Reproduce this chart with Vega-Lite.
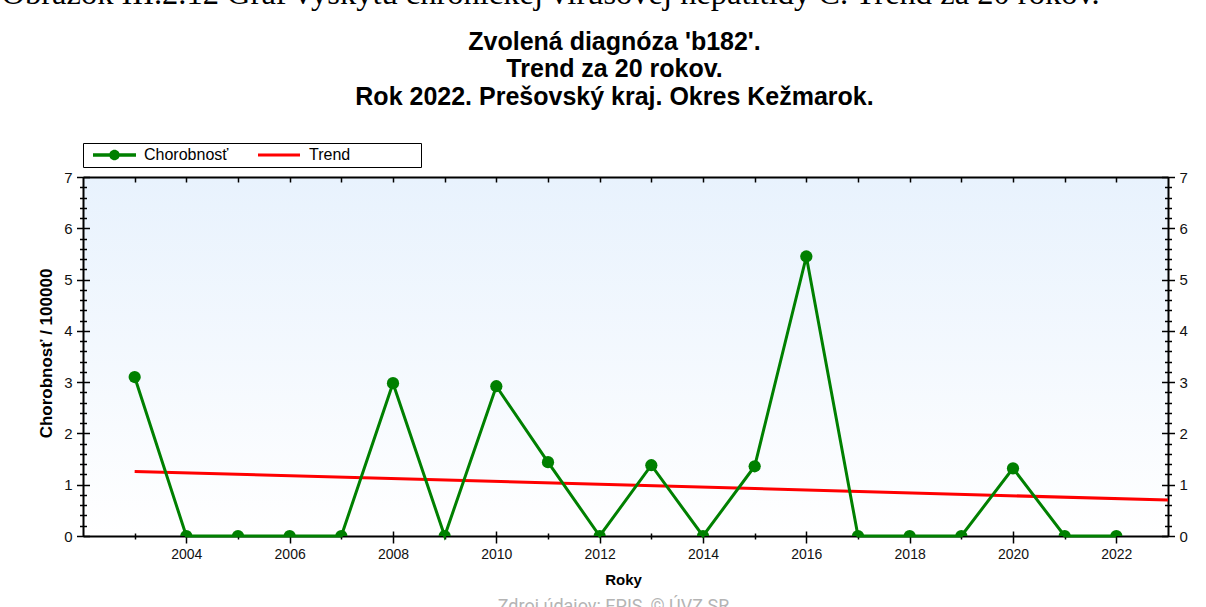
{
  "$schema": "https://vega.github.io/schema/vega-lite/v6.json",
  "autosize": {"type": "none"},
  "width": 1085,
  "height": 359,
  "padding": {"left": 83, "top": 177, "right": 38, "bottom": 71},
  "background": "white",
  "view": {
    "stroke": null,
    "fill": {
      "gradient": "linear",
      "x1": 0, "y1": 0, "x2": 0, "y2": 1,
      "stops": [
        {"offset": 0, "color": "#e8f2fd"},
        {"offset": 1, "color": "#ffffff"}
      ]
    }
  },
  "datasets": {
    "incidence": [
      {"year": 2003, "value": 3.10},
      {"year": 2004, "value": 0},
      {"year": 2005, "value": 0},
      {"year": 2006, "value": 0},
      {"year": 2007, "value": 0},
      {"year": 2008, "value": 2.98},
      {"year": 2009, "value": 0},
      {"year": 2010, "value": 2.92},
      {"year": 2011, "value": 1.44},
      {"year": 2012, "value": 0},
      {"year": 2013, "value": 1.38},
      {"year": 2014, "value": 0},
      {"year": 2015, "value": 1.36},
      {"year": 2016, "value": 5.45},
      {"year": 2017, "value": 0},
      {"year": 2018, "value": 0},
      {"year": 2019, "value": 0},
      {"year": 2020, "value": 1.32},
      {"year": 2021, "value": 0},
      {"year": 2022, "value": 0}
    ],
    "trend": [
      {"year": 2003, "trend": 1.26},
      {"year": 2023, "trend": 0.70}
    ]
  },
  "config": {
    "axis": {
      "grid": false,
      "domainColor": "black",
      "domainWidth": 2,
      "tickColor": "black",
      "tickWidth": 1.5,
      "labelFont": "Liberation Sans",
      "titleFont": "Liberation Sans",
      "labelColor": "#111111",
      "titleColor": "black"
    }
  },
  "resolve": {"axis": {"x": "independent", "y": "independent"}},
  "layer": [
    {
      "data": {"name": "trend"},
      "mark": {"type": "line", "strokeWidth": 3},
      "encoding": {
        "x": {
          "field": "year", "type": "quantitative",
          "scale": {"domain": [2002, 2023], "nice": false, "zero": false},
          "axis": {
            "orient": "bottom",
            "values": [2004, 2006, 2008, 2010, 2012, 2014, 2016, 2018, 2020, 2022],
            "format": "d",
            "ticks": false,
            "labelPadding": 11,
            "labelFontSize": 14,
            "domain": true,
            "title": "Roky",
            "titleFontSize": 15,
            "titleFontWeight": "bold",
            "titleX": 540,
            "titleY": 43,
            "titleBaseline": "middle",
            "titleAlign": "center"
          }
        },
        "y": {
          "field": "trend", "type": "quantitative",
          "scale": {"domain": [0, 7], "nice": false},
          "axis": {
            "orient": "left",
            "values": [0, 1, 2, 3, 4, 5, 6, 7],
            "ticks": false,
            "labelPadding": 11,
            "labelFontSize": 15,
            "domain": true,
            "title": "Chorobnosť / 100000",
            "titleFontSize": 17,
            "titleFontWeight": "bold",
            "titleAngle": 270,
            "titleX": -37,
            "titleY": 176,
            "titleAlign": "center",
            "titleBaseline": "middle"
          }
        },
        "color": {
          "datum": "Trend",
          "scale": {"domain": ["Chorobnosť", "Trend"], "range": ["#008000", "#ff0000"]},
          "legend": {
            "orient": "none",
            "legendX": 0,
            "legendY": -34,
            "direction": "horizontal",
            "title": null,
            "strokeColor": "black",
            "fillColor": "white",
            "padding": 4,
            "labelFont": "Liberation Sans",
            "labelFontSize": 16,
            "labelColor": "black",
            "labelLimit": 300,
            "symbolSize": 100,
            "symbolStrokeWidth": 0,
            "labelOffset": 41,
            "columnPadding": 23,
            "labelExpr": "datum.label === 'Trend' ? 'Trend\u00a0\u00a0\u00a0\u00a0\u00a0\u00a0\u00a0\u00a0\u00a0\u00a0\u00a0\u00a0\u00a0\u00a0\u00a0\u200b' : datum.label",
            "encode": {
              "symbols": {
                "update": {
                  "shape": {"signal": "datum.value === 'Trend' ? 'M-0.4,-0.3H8V0.3H-0.4Z' : 'M-0.4,-0.34H8.2V0.34H-0.4Z M2.85,0A1.05,1.05 0 1 1 4.95,0A1.05,1.05 0 1 1 2.85,0Z'"},
                  "fill": {"signal": "datum.value === 'Trend' ? '#ff0000' : '#008000'"},
                  "fillOpacity": {"value": 1},
                  "opacity": {"value": 1},
                  "stroke": {"value": "transparent"},
                  "size": {"value": 100}
                }
              }
            }
          }
        }
      }
    },
    {
      "data": {"name": "incidence"},
      "mark": {"type": "line", "strokeWidth": 3},
      "encoding": {
        "x": {
          "field": "year", "type": "quantitative",
          "scale": {"domain": [2002, 2023], "nice": false, "zero": false},
          "axis": {
            "orient": "bottom",
            "values": [2004, 2006, 2008, 2010, 2012, 2014, 2016, 2018, 2020, 2022],
            "labels": false, "domain": false, "title": null,
            "tickSize": 12, "offset": -5
          }
        },
        "y": {
          "field": "value", "type": "quantitative",
          "scale": {"domain": [0, 7], "nice": false},
          "axis": {
            "orient": "left",
            "values": [0, 1, 2, 3, 4, 5, 6, 7],
            "labels": false, "domain": false, "title": null,
            "tickSize": 13, "offset": -6.5
          }
        },
        "color": {"datum": "Chorobnosť"}
      }
    },
    {
      "data": {"name": "incidence"},
      "mark": {"type": "circle", "size": 150, "opacity": 1, "color": "#008000", "clip": true},
      "encoding": {
        "x": {
          "field": "year", "type": "quantitative",
          "scale": {"domain": [2002, 2023], "nice": false, "zero": false},
          "axis": {
            "orient": "bottom",
            "values": [2003, 2005, 2007, 2009, 2011, 2013, 2015, 2017, 2019, 2021],
            "labels": false, "domain": false, "title": null,
            "tickSize": 6, "offset": -3
          }
        },
        "y": {
          "field": "value", "type": "quantitative",
          "scale": {"domain": [0, 7], "nice": false},
          "axis": {
            "orient": "left",
            "values": [0.2, 0.4, 0.6, 0.8, 1.2, 1.4, 1.6, 1.8, 2.2, 2.4, 2.6, 2.8, 3.2, 3.4, 3.6, 3.8, 4.2, 4.4, 4.6, 4.8, 5.2, 5.4, 5.6, 5.8, 6.2, 6.4, 6.6, 6.8],
            "labels": false, "domain": false, "title": null,
            "tickSize": 7, "offset": -3.5
          }
        }
      }
    },
    {
      "data": {"name": "incidence"},
      "mark": {"type": "point", "opacity": 0},
      "encoding": {
        "x": {
          "field": "year", "type": "quantitative",
          "scale": {"domain": [2002, 2023], "nice": false, "zero": false},
          "axis": {
            "orient": "top",
            "values": [2003, 2004, 2005, 2006, 2007, 2008, 2009, 2010, 2011, 2012, 2013, 2014, 2015, 2016, 2017, 2018, 2019, 2020, 2021, 2022],
            "labels": false, "domain": true,
            "tickSize": -5,
            "title": "Obrázok III.2.12 Graf výskytu chronickej vírusovej hepatitídy C. Trend za 20 rokov.",
            "titleFont": "Liberation Serif",
            "titleFontSize": 32.5,
            "titleFontWeight": "normal",
            "titleColor": "black",
            "titleX": -82,
            "titleY": -174,
            "titleAlign": "left",
            "titleBaseline": "alphabetic",
            "titleAngle": 0,
            "titleLimit": 2000
          }
        },
        "y": {
          "field": "value", "type": "quantitative",
          "scale": {"domain": [0, 7], "nice": false},
          "axis": {
            "orient": "right",
            "values": [0, 1, 2, 3, 4, 5, 6, 7],
            "ticks": false,
            "labelPadding": 11,
            "labelFontSize": 15,
            "domain": true,
            "title": null
          }
        }
      }
    },
    {
      "data": {"name": "incidence"},
      "mark": {"type": "point", "opacity": 0},
      "encoding": {
        "x": {
          "field": "year", "type": "quantitative",
          "scale": {"domain": [2002, 2023], "nice": false, "zero": false},
          "axis": {
            "orient": "top",
            "values": [],
            "labels": false, "domain": false, "ticks": false,
            "title": ["Zvolená diagnóza 'b182'.", "Trend za 20 rokov.", "Rok 2022. Prešovský kraj. Okres Kežmarok."],
            "titleFont": "Liberation Sans",
            "titleFontSize": 25,
            "titleFontWeight": "bold",
            "titleLineHeight": 27.5,
            "titleX": 531,
            "titleY": -128,
            "titleAlign": "center",
            "titleBaseline": "alphabetic",
            "titleAngle": 0
          }
        },
        "y": {
          "field": "value", "type": "quantitative",
          "scale": {"domain": [0, 7], "nice": false},
          "axis": {
            "orient": "right",
            "values": [0, 1, 2, 3, 4, 5, 6, 7],
            "labels": false, "domain": false, "title": null,
            "tickSize": 13, "offset": -6.5
          }
        }
      }
    },
    {
      "data": {"name": "incidence"},
      "mark": {"type": "point", "opacity": 0},
      "encoding": {
        "x": {
          "field": "year", "type": "quantitative",
          "scale": {"domain": [2002, 2023], "nice": false, "zero": false},
          "axis": {
            "orient": "bottom",
            "values": [],
            "labels": false, "domain": false, "ticks": false,
            "title": "Zdroj údajov: EPIS, © ÚVZ SR",
            "titleFont": "Roboto",
            "titleFontSize": 18,
            "titleFontWeight": "normal",
            "titleColor": "#b4b4b4",
            "titleX": 530,
            "titleY": 75,
            "titleAlign": "center",
            "titleBaseline": "alphabetic"
          }
        },
        "y": {
          "field": "value", "type": "quantitative",
          "scale": {"domain": [0, 7], "nice": false},
          "axis": {
            "orient": "right",
            "values": [0.2, 0.4, 0.6, 0.8, 1.2, 1.4, 1.6, 1.8, 2.2, 2.4, 2.6, 2.8, 3.2, 3.4, 3.6, 3.8, 4.2, 4.4, 4.6, 4.8, 5.2, 5.4, 5.6, 5.8, 6.2, 6.4, 6.6, 6.8],
            "labels": false, "domain": false, "title": null,
            "tickSize": 7, "offset": -3.5
          }
        }
      }
    }
  ]
}
